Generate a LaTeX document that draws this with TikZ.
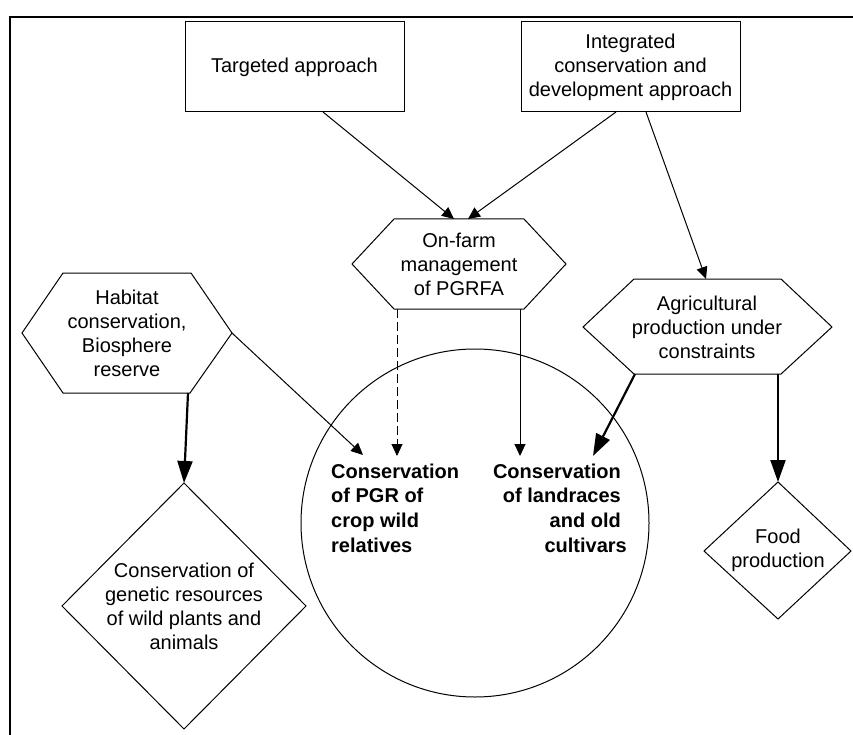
\documentclass[tikz,border=0pt]{standalone}
\usepackage{fontspec}
\setmainfont{Liberation Sans}
\usetikzlibrary{arrows.meta}
\begin{document}
\begin{tikzpicture}[x=1pt,y=-1pt,
  txt/.style={align=center, font=\fontsize{20}{24}\selectfont, inner sep=0pt},
  btxt/.style={font=\fontsize{20}{24.6}\selectfont\bfseries, inner sep=0pt},
  shp/.style={draw, line width=1pt, line join=miter},
  boxnode/.style={txt, draw, line width=1pt, minimum width=219pt, minimum height=90pt},
  thinarrow/.style={line width=1pt, -{Triangle[length=12pt,width=11pt]}},
  boldarrow/.style={line width=2.2pt, -{Triangle[length=22pt,width=15pt]}},
  dasharrow/.style={thinarrow, dash pattern=on 9pt off 4pt}]
\useasboundingbox (0,0) rectangle (853,735);
\clip (0,0) rectangle (853,735);
\fill[white] (0,0) rectangle (853,735);
% frame
\draw[line width=2pt] (10,760) -- (10,17) -- (880,17);

% boxes
\node[boxnode] (tgt) at (294.5,67) {Targeted approach};
\node[boxnode] (int) at (630.5,67) {Integrated\\conservation and\\development approach};

% on-farm hexagon
\node[txt] (onf) at (459,264) {On-farm\\management\\of PGRFA};
\draw[shp] (352,264) -- (394,219) -- (524,219) -- (566,264) -- (524,309) -- (394,309) -- cycle;

% habitat hexagon
\node[txt] (hab) at (127,333) {Habitat\\conservation,\\Biosphere\\reserve};
\draw[shp] (22,333) -- (63,273) -- (191,273) -- (232,333) -- (190,393) -- (63,393) -- cycle;

% agricultural hexagon
\node[txt] (agr) at (707,327) {Agricultural\\production under\\constraints};
\draw[shp] (583,327) -- (634,279) -- (781,279) -- (832,327) -- (781,374) -- (634,374) -- cycle;

% diamonds
\node[txt] (cgr) at (184,606) {Conservation of\\genetic resources\\of wild plants and\\animals};
\draw[shp] (184,483) -- (306,606) -- (184,729) -- (62,606) -- cycle;
\node[txt] (food) at (778,550) {Food\\production};
\draw[shp] (778,482) -- (851,551) -- (778,619) -- (704,551) -- cycle;

% circle
\node[circle, draw, line width=1pt, minimum size=348pt, inner sep=0pt] (pool) at (475,523) {};
\node[btxt, anchor=west, align=left] (cwr) at (331,508) {Conservation\\of PGR of\\crop wild\\relatives};
\node[btxt, anchor=east, align=right] (lr) at (621,508) {Conservation\\of landraces\\and old\\cultivars\hspace*{-6pt}};

% connection points
\coordinate (t1) at (323,112);
\coordinate (i1) at (616,112);
\coordinate (i2) at (646,112);
\coordinate (a1) at (454,219);
\coordinate (a2) at (468,219);
\coordinate (a3) at (706,279);
\coordinate (o1) at (397,309);
\coordinate (o2) at (520,309);
\coordinate (e1) at (397,456);
\coordinate (e2) at (520,456);
\coordinate (h1) at (232,333);
\coordinate (e3) at (363,455);
\coordinate (h2) at (188,393);
\coordinate (e4) at (184,483);
\coordinate (g1) at (635,374);
\coordinate (e5) at (593,456);
\coordinate (g2) at (778,374);
\coordinate (e6) at (778,482);

% connectors
\draw[thinarrow] (t1) -- (a1);
\draw[thinarrow] (i1) -- (a2);
\draw[thinarrow] (i2) -- (a3);
\draw[dasharrow] (o1) -- (e1);
\draw[thinarrow] (o2) -- (e2);
\draw[thinarrow] (h1) -- (e3);
\draw[boldarrow] (h2) -- (e4);
\draw[boldarrow] (g1) -- (e5);
\draw[boldarrow] (g2) -- (e6);
\end{tikzpicture}
\end{document}
